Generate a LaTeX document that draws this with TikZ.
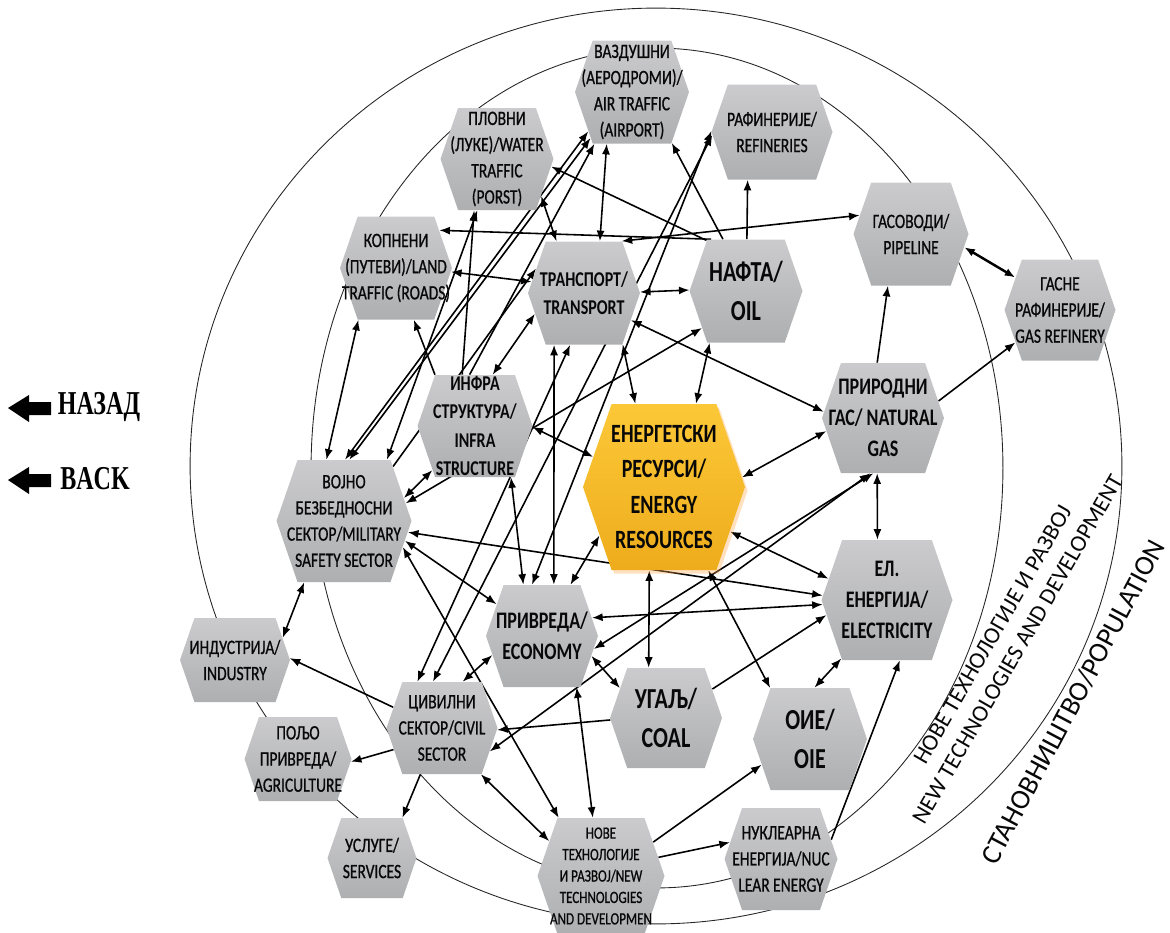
\documentclass[tikz,border=0pt]{standalone}
\usepackage{fontspec}
\usetikzlibrary{shapes.symbols,arrows.meta,shadows}
\newfontfamily\hexfont{Carlito}[FakeStretch=0.76, UprightFeatures={FakeBold=0.8}]
\newfontfamily\ringfont{Carlito}
\newfontfamily\backfont{Liberation Serif}[FakeStretch=0.72]
\definecolor{hexTop}{RGB}{203,203,205}
\definecolor{hexBot}{RGB}{174,175,177}
\definecolor{resTop}{RGB}{252,200,56}
\definecolor{resBot}{RGB}{238,172,28}
\definecolor{ink}{RGB}{8,8,8}
\pgfdeclarelayer{bg}
\pgfsetlayers{bg,main}

\begin{document}
\begin{tikzpicture}[x=0.02cm, y=-0.02cm,
    hexa/.style 2 args={signal, signal to=east and west, signal pointer angle=142,
      minimum width=#1*0.02cm, minimum height=#2*0.02cm, inner sep=0pt,
      top color=hexTop, bottom color=hexBot, draw=none},
    txt/.style={font=\hexfont\fontsize{11.6}{14.9}\selectfont, align=center, inner sep=0pt, text=ink},
    smalltxt/.style={txt, font=\hexfont\fontsize{9.8}{12.2}\selectfont},
    boldtxt/.style={txt, font=\hexfont\bfseries\fontsize{12}{16}\selectfont},
    midtxt/.style={txt, font=\hexfont\bfseries\fontsize{13.5}{17.6}\selectfont},
    restxt/.style={txt, font=\hexfont\bfseries\fontsize{15}{20}\selectfont},
    bigtxt/.style={txt, font=\hexfont\bfseries\fontsize{16.5}{22}\selectfont},
    both/.style={line width=0.9pt, {Latex[length=6pt,width=4.6pt]}-{Latex[length=6pt,width=4.6pt]}},
    one/.style={line width=0.9pt, -{Latex[length=6pt,width=4.6pt]}},
    ring/.style={line width=0.5pt, black!85}]
  \useasboundingbox (0,0) rectangle (1170,933);

  % back buttons
  \node[font=\backfont\bfseries\fontsize{19}{19}\selectfont, inner sep=0pt] (nazad) at (99,407) {НАЗАД};
  \node[font=\backfont\bfseries\fontsize{19}{19}\selectfont, inner sep=0pt] (back) at (95,479) {BACK};
  \fill (8,408) -- (29,395) -- (29,402) -- (51,402) -- (51,415) -- (29,415) -- (29,422) -- cycle;
  \fill (8,480) -- (29,467) -- (29,474) -- (51,474) -- (51,487) -- (29,487) -- (29,494) -- cycle;

  % hexagons
  \node[hexa={114}{103}, label={[txt]center:{ВАЗДУШНИ\\(АЕРОДРОМИ)/\\AIR TRAFFIC\\(AIRPORT)}}] (air) at (632,92) {};
  \node[hexa={121}{95}, label={[txt]center:{РАФИНЕРИЈЕ/\\REFINERIES}}] (refin) at (772,132) {};
  \node[hexa={113}{102}, label={[txt]center:{ПЛОВНИ\\(ЛУКЕ)/WATER\\TRAFFIC\\(PORST)}}] (water) at (497,159) {};
  \node[hexa={115}{103}, label={[txt]center:{ГАСОВОДИ/\\PIPELINE}}] (pipe) at (911,234) {};
  \node[hexa={111}{101}, label={[txt]center:{ГАСНЕ\\РАФИНЕРИЈЕ/\\GAS REFINERY}}] (gasref) at (1060,310) {};
  \node[hexa={112}{103}, label={[txt]center:{КОПНЕНИ\\(ПУТЕВИ)/LAND\\TRAFFIC (ROADS)}}] (land) at (396,268) {};
  \node[hexa={112}{103}, label={[boldtxt]center:{ТРАНСПОРТ/\\TRANSPORT}}] (trans) at (584,293) {};
  \node[hexa={113}{103}, label={[bigtxt]center:{НАФТА/\\OIL}}] (oil) at (746,291) {};
  \node[hexa={115}{102}, label={[boldtxt]center:{ИНФРА\\СТРУКТУРА/\\INFRA\\STRUCTURE}}] (infra) at (475,426) {};
  \node[hexa={162}{166}, top color=resTop, bottom color=resBot,
    drop shadow={shadow xshift=1.5pt, shadow yshift=-2pt, fill=orange!70, opacity=0.35},
    label={[restxt]center:{ЕНЕРГЕТСКИ\\РЕСУРСИ/\\ENERGY\\RESOURCES}}] (energy) at (664,487) {};
  \node[hexa={122}{110}, label={[midtxt]center:{ПРИРОДНИ\\ГАС/ NATURAL\\GAS}}] (ngas) at (883,418) {};
  \node[hexa={135}{122}, label={[txt]center:{ВОЈНО\\БЕЗБЕДНОСНИ\\СЕКТОР/MILITARY\\SAFETY SECTOR}}] (mil) at (344,521) {};
  \node[hexa={131}{120}, label={[midtxt]center:{ЕЛ.\\ЕНЕРГИЈА/\\ELECTRICITY}}] (elec) at (887,600) {};
  \node[hexa={112}{102}, label={[midtxt]center:{ПРИВРЕДА/\\ECONOMY}}] (econ) at (542,636) {};
  \node[hexa={110}{84}, label={[txt]center:{ИНДУСТРИЈА/\\INDUSTRY}}] (ind) at (235,660) {};
  \node[hexa={112}{100}, label={[bigtxt]center:{УГАЉ/\\COAL}}] (coal) at (666,718) {};
  \node[hexa={111}{92}, label={[txt]center:{ЦИВИЛНИ\\СЕКТОР/CIVIL\\SECTOR}}] (civil) at (442,728) {};
  \node[hexa={114}{102}, label={[bigtxt]center:{ОИЕ/\\OIE}}] (oie) at (810,739) {};
  \node[hexa={107}{84}, label={[txt]center:{ПОЉО\\ПРИВРЕДА/\\AGRICULTURE}}] (agri) at (298,759) {};
  \node[hexa={89}{80}, label={[txt]center:{УСЛУГЕ/\\SERVICES}}] (serv) at (372,858) {};
  \node[hexa={127}{116}, label={[smalltxt]center:{НОВЕ\\ТЕХНОЛОГИЈЕ\\И РАЗВОЈ/NEW\\TECHNOLOGIES\\AND DEVELOPMEN}}] (newt) at (601,876) {};
  \node[hexa={113}{102}, label={[txt]center:{НУКЛЕАРНА\\ЕНЕРГИЈА/NUC\\LEAR ENERGY}}] (nuc) at (781,859) {};

  % ring captions
  \node[font=\ringfont\fontsize{13.3}{16.5}\selectfont, align=center, rotate=60, text=ink] (ringtech) at (1005,642)
    {НОВЕ ТЕХНОЛОГИЈЕ И РАЗВОЈ\\NEW TECHNOLOGIES AND DEVELOPMENT};
  \node[font=\ringfont\fontsize{16}{18}\selectfont, rotate=62, text=ink] (ringpop) at (1073,702)
    {СТАНОВНИШТВО/POPULATION};

  \begin{pgfonlayer}{bg}
    \draw[ring] (656,466) ellipse [x radius=9.32cm, y radius=9.16cm];
    \draw[ring] (657,468) ellipse [x radius=6.92cm, y radius=8.4cm];

    \draw[both] (air.-116) -- (trans.73);
    \draw[one] (oil.114) -- (air.-52);
    \draw[one] (oil.89) -- (refin.-117);
    \draw[one] (oil.128) -- (water.-8);
    \draw[one] (oil.124) -- (land.41);
    \draw[both] (trans.54) -- (pipe.160);
    \draw[both] (water.-40) -- (trans.118);
    \draw[both] (land.-4) -- (trans.168);
    \draw[both] (trans.1) -- (oil.179);
    \draw[both, line width=1.4pt] (pipe.-14) -- (gasref.144);
    \draw[one] (ngas.96) -- (pipe.-114);
    \draw[one] (ngas.17) -- (gasref.-144);
    \draw[both] (trans.-30) -- (ngas.174);
    \draw[both] (energy.7) -- (ngas.-167);
    \draw[both] (ngas.-96) -- (elec.99);
    \draw[both] (oil.-125) -- (energy.69);
    \draw[both] (trans.-53) -- (energy.109);
    \draw[both] (infra.-1) -- (energy.157);
    \draw[both] (mil.21) -- (infra.-134);
    \draw[both] (infra.71) -- (trans.-157);
    \draw[both] (mil.106) -- (land.-126);
    \draw[both] (mil.55) -- (water.-111);
    \draw[both] (mil.89) -- (air.-138);
    \draw[both] (mil.85) -- (air.-132);
    \draw[one] (infra.104) -- (water.-114);
    \draw[one] (infra.128) -- (land.-71);
    \draw[one] (infra.96) -- (air.-126);
    \draw[one] (mil.48) -- (trans.153);
    \draw[both] (trans.-120) -- (econ.77);
    \draw[both] (econ.101) -- (refin.179);
    \draw[both] (infra.-55) -- (econ.110);
    \draw[both] (energy.-143) -- (econ.61);
    \draw[both] (civil.118) -- (trans.-105);
    \draw[both] (civil.101) -- (refin.-177);
    \draw[both] (civil.66) -- (econ.-159);
    \draw[both] (mil.-10) -- (elec.176);
    \draw[both] (mil.-18) -- (econ.145);
    \draw[both] (mil.-24) -- (newt.126);
    \draw[both] (mil.16) -- (oil.-140);
    \draw[both] (mil.-123) -- (ind.25);
    \draw[both] (energy.-34) -- (elec.160);
    \draw[both] (econ.20) -- (elec.-176);
    \draw[one] (coal.32) -- (elec.-166);
    \draw[both] (econ.-14) -- (ngas.-100);
    \draw[both] (civil.-26) -- (ngas.-103);
    \draw[one] (coal.182) -- (civil.-2);
    \draw[one] (civil.157) -- (ind.2);
    \draw[one] (civil.-156) -- (agri.-3);
    \draw[one] (civil.-115) -- (serv.53);
    \draw[both] (civil.-50) -- (newt.146);
    \draw[both] (econ.-22) -- (coal.147);
    \draw[both] (energy.-100) -- (coal.109);
    \draw[one] (newt.33) -- (oie.-152);
    \draw[one] (newt.18) -- (nuc.162);
    \draw[one] (nuc.21) -- (elec.-78);
    \draw[both] (econ.-56) -- (newt.98);
    \draw[both] (energy.-62) -- (oie.128);
    \draw[both] (elec.-128) -- (oie.85);
  \end{pgfonlayer}
\end{tikzpicture}
\end{document}
